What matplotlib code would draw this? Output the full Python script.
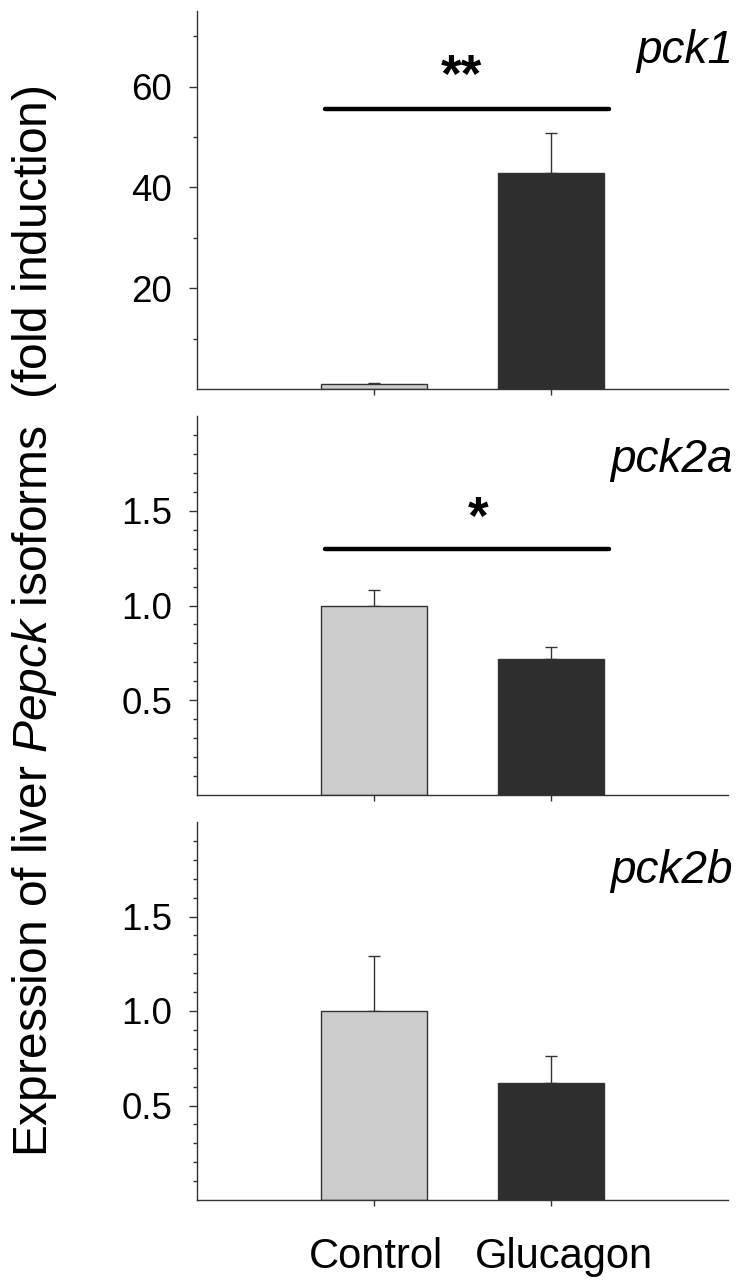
import matplotlib
matplotlib.use("Agg")
import matplotlib.pyplot as plt
from matplotlib.ticker import FixedLocator
from matplotlib.transforms import ScaledTranslation

plt.rcParams['font.family'] = ['Liberation Sans', 'DejaVu Sans']
plt.rcParams['mathtext.fontset'] = 'custom'
plt.rcParams['mathtext.rm'] = 'Liberation Sans'
plt.rcParams['mathtext.it'] = 'Liberation Sans:italic'

# ---- data ----
groups = ["Control", "Glucagon"]
genes = ["pck1", "pck2a", "pck2b"]
pck1_mean = [1.0, 42.8]
pck1_err = [0.2, 7.9]
pck2a_mean = [1.0, 0.72]
pck2a_err = [0.08, 0.06]
pck2b_mean = [1.0, 0.62]
pck2b_err = [0.29, 0.14]
significance = ["**", "*", ""]
sig_line_y = [55.5, 1.30, None]
star_y = [59.0, 1.38, None]
star_x = [1.494, 1.588, None]
ylims = [(0, 75), (0, 2.0), (0, 2.0)]
major_ticks = [[20, 40, 60], [0.5, 1.0, 1.5], [0.5, 1.0, 1.5]]
minor_ticks = [[10, 30, 50, 70],
               [0.1, 0.2, 0.3, 0.4, 0.6, 0.7, 0.8, 0.9, 1.1, 1.2, 1.3, 1.4, 1.6, 1.7, 1.8, 1.9],
               [0.1, 0.2, 0.3, 0.4, 0.6, 0.7, 0.8, 0.9, 1.1, 1.2, 1.3, 1.4, 1.6, 1.7, 1.8, 1.9]]
tick_fmt = ["{:.0f}", "{:.1f}", "{:.1f}"]

means = [pck1_mean, pck2a_mean, pck2b_mean]
errs = [pck1_err, pck2a_err, pck2b_err]

W, H = 740, 1281
fig = plt.figure(figsize=(W / 100, H / 100), dpi=100)

left_px, right_px = 197, 728
panels_px = [(11, 389), (416, 795), (822, 1200)]
label_base_y = [0.862, 0.852, 0.839]

bar_colors = ["#cccccc", "#2e2e2e"]
edge = "#333333"
xpos = [1, 2]

for i, (top, bot) in enumerate(panels_px):
    ax = fig.add_axes([left_px / W, 1 - bot / H, (right_px - left_px) / W, (bot - top) / H])
    ax.bar(xpos, means[i], width=0.6, color=bar_colors, edgecolor=edge, linewidth=1.0, zorder=2)
    ax.errorbar(xpos, means[i], yerr=[[0, 0], errs[i]], fmt='none', ecolor=edge,
                elinewidth=1.0, capsize=4.5, capthick=1.0, zorder=1)
    ax.set_xlim(0, 3)
    ax.set_ylim(*ylims[i])
    for s in ["top", "right"]:
        ax.spines[s].set_visible(False)
    for s in ["left", "bottom"]:
        ax.spines[s].set_color(edge)
        ax.spines[s].set_linewidth(1.0)
    ax.yaxis.set_major_locator(FixedLocator(major_ticks[i]))
    ax.yaxis.set_minor_locator(FixedLocator(minor_ticks[i]))
    ax.set_yticklabels([tick_fmt[i].format(v) for v in major_ticks[i]])
    ax.tick_params(axis='y', which='major', length=5.8, width=1.0, color=edge,
                   labelsize=26.5, pad=12)
    ax.tick_params(axis='y', which='minor', length=2.9, width=1.0, color=edge)
    ax.set_xticks(xpos)
    if i == 2:
        ax.set_xticklabels(groups)
        ax.tick_params(axis='x', length=4.3, width=1.0, color=edge, labelsize=30, pad=22)
        labs = ax.get_xticklabels()
        labs[0].set_transform(labs[0].get_transform() + ScaledTranslation(0.02, 0, fig.dpi_scale_trans))
        labs[1].set_transform(labs[1].get_transform() + ScaledTranslation(0.13, 0, fig.dpi_scale_trans))
    else:
        ax.set_xticklabels(["", ""])
        ax.tick_params(axis='x', length=4.3, width=1.0, color=edge)
    ax.text(1.009, label_base_y[i], genes[i], transform=ax.transAxes, ha='right',
            va='baseline', fontsize=33, fontstyle='italic')
    if significance[i]:
        ax.plot([0.723, 2.328], [sig_line_y[i], sig_line_y[i]], color='black',
                linewidth=3.2, solid_capstyle='round', zorder=3)
        ax.text(star_x[i], star_y[i], significance[i], ha='center', va='baseline',
                fontsize=38, fontweight='bold')

fig.text(0.047, 1 - 621 / H, r"Expression of liver $\mathit{Pepck}$ isoforms  (fold induction)",
         rotation=90, ha='center', va='center', fontsize=34.5)

fig.savefig("out.png", dpi=100)
